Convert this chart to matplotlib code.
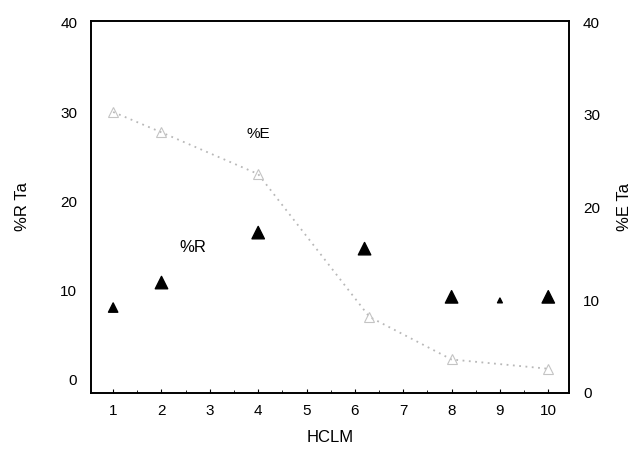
import matplotlib.pyplot as plt
from matplotlib.ticker import MultipleLocator

plt.rcParams["font.family"] = ["Liberation Sans", "DejaVu Sans"]

# Data
hcl = [1, 2, 4, 6.2, 8, 9, 10]
pct_r = [8.1, 10.9, 16.5, 14.7, 9.3, 8.9, 9.3]
r_sizes = [45, 80, 80, 80, 80, 12, 80]

hcl_e = [1, 2, 4, 6.3, 8, 10]
pct_e = [30.3, 28.1, 23.6, 8.2, 3.6, 2.6]

fg = plt.figure(figsize=(6.33, 4.5), dpi=100)
ax = fg.add_axes([0.144, 0.127, 0.755, 0.826])
ax2 = ax.twinx()

# %E on the right axis: faint dotted curve with open triangles
ax2.plot(hcl_e, pct_e, linestyle=(0, (1, 2.5)), color="#b8b8b8", lw=1.3,
         marker="^", markersize=7, markerfacecolor="none",
         markeredgecolor="#c4c4c4", markeredgewidth=0.8)

# %R on the left axis: black filled triangles
ax.scatter(hcl, pct_r, marker="^", s=r_sizes, color="black", zorder=3)

ax.text(4.0, 27.5, "%E", fontsize=11, ha="center", va="center")
ax.text(2.65, 14.8, "%R", fontsize=12, ha="center", va="center")

ax.set_xlim(0.545, 10.43)
ax.set_ylim(-1.46, 40.2)
ax2.set_ylim(0, 40.1)

ax.set_xticks(range(1, 11))
ax.xaxis.set_minor_locator(MultipleLocator(0.5))
ax.set_yticks([0, 10, 20, 30, 40])
ax2.set_yticks([0, 10, 20, 30, 40])

ax.tick_params(axis="x", direction="in", length=3, labelsize=11, pad=8)
ax.tick_params(axis="x", which="minor", direction="in", length=2)
ax.tick_params(axis="y", length=0, labelsize=11, pad=10)
ax2.tick_params(axis="y", length=0, labelsize=11, pad=10)

for a in (ax, ax2):
    for s in a.spines.values():
        s.set_linewidth(1.2)

ax.set_xlabel("HCLM", fontsize=12, labelpad=9)
ax.set_ylabel("%R Ta", fontsize=12, labelpad=22)
ax2.set_ylabel("%E Ta", fontsize=12, labelpad=12, rotation=90)

fg.savefig("out.png", dpi=100)
